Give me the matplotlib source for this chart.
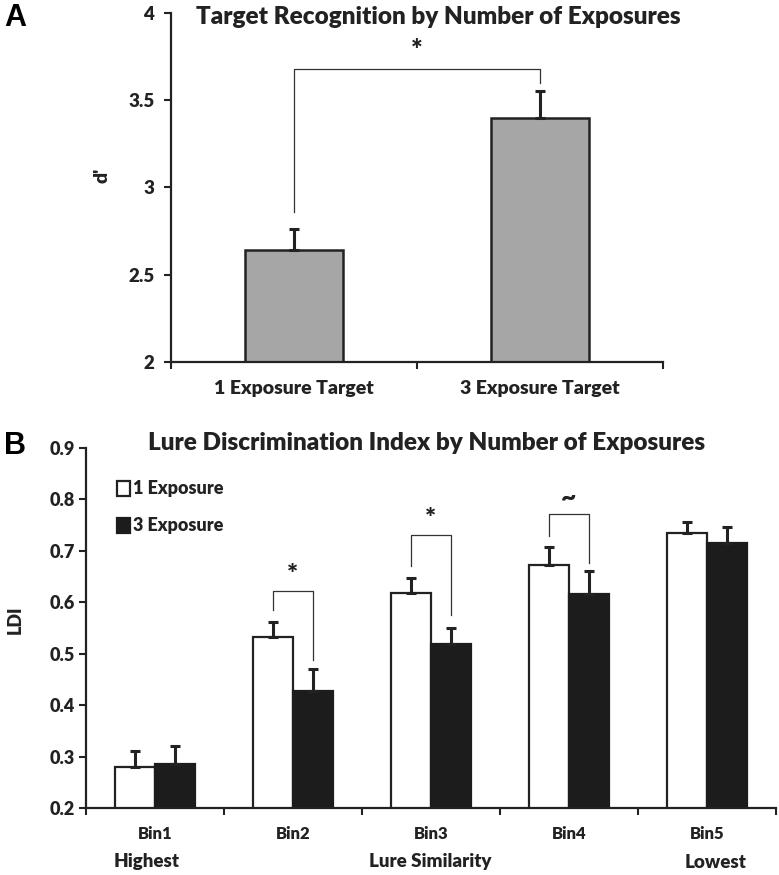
import matplotlib
matplotlib.use('Agg')
import matplotlib.pyplot as plt
import numpy as np

plt.rcParams['font.family'] = ['Lato', 'DejaVu Sans']
plt.rcParams['font.weight'] = 'heavy'
plt.rcParams['text.color'] = '#222222'
plt.rcParams['axes.labelcolor'] = '#222222'
plt.rcParams['xtick.color'] = '#222222'
plt.rcParams['ytick.color'] = '#222222'

# panel A data
a_labels = ['1 Exposure Target', '3 Exposure Target']
a_means = [2.64, 3.40]
a_err = [0.12, 0.15]
# significance bracket (y of bar, left leg end, right leg end)
a_bracket = [3.68, 2.86, 3.60]

# panel B data
bins = ['Bin1', 'Bin2', 'Bin3', 'Bin4', 'Bin5']
ldi_1exp = [0.280, 0.533, 0.619, 0.673, 0.734]
ldi_1exp_err = [0.031, 0.028, 0.028, 0.034, 0.022]
ldi_3exp = [0.285, 0.428, 0.518, 0.616, 0.716]
ldi_3exp_err = [0.035, 0.042, 0.032, 0.044, 0.031]
# brackets: bin index, top, left leg end, right leg end, symbol
b_brackets = [(1, 0.621, 0.585, 0.488, '*'),
              (2, 0.730, 0.670, 0.575, '*'),
              (3, 0.772, 0.729, 0.677, '~')]

fig = plt.figure(figsize=(7.79, 8.75), dpi=100)


def style_axes(ax):
    for s in ['top', 'right']:
        ax.spines[s].set_visible(False)
    for s in ['left', 'bottom']:
        ax.spines[s].set_linewidth(1.6)
        ax.spines[s].set_color('#222222')
    ax.tick_params(axis='y', which='major', direction='out', length=5, width=1.5)
    ax.tick_params(axis='x', which='major', direction='out', length=5, width=1.5)
    ax.tick_params(axis='x', which='minor', length=0)


# ---------- Panel A ----------
axA = fig.add_axes([0.2195, 0.5863, 0.6316, 0.3989])
xa = np.arange(len(a_labels))
axA.bar(xa, a_means, width=0.4, bottom=0, color='#a6a6a6', edgecolor='#222222',
        linewidth=1.8, zorder=2)
axA.errorbar(xa, a_means, yerr=[np.zeros(len(a_err)), a_err], fmt='none',
             ecolor='#222222', elinewidth=2.2, capsize=3.5, capthick=2.2, zorder=3)
axA.set_ylim(2, 4)
axA.set_xlim(-0.5, 1.5)
axA.set_yticks([2, 2.5, 3, 3.5, 4])
axA.set_yticklabels(['2', '2.5', '3', '3.5', '4'], fontsize=13.5)
axA.set_xticks([-0.5, 0.5, 1.5])
axA.set_xticklabels([])
axA.set_xticks(xa, minor=True)
axA.set_xticklabels(a_labels, minor=True, fontsize=14)
style_axes(axA)
axA.tick_params(axis='y', pad=7)
axA.tick_params(axis='x', which='minor', pad=13)

top, l_end, r_end = a_bracket
axA.plot([xa[0], xa[0], xa[1], xa[1]], [l_end, top, top, r_end],
         color='#333333', lw=0.9, zorder=1)
axA.text((xa[0] + xa[1]) / 2, top + 0.03, '*', ha='center', va='bottom',
         fontsize=20)

fig.text(438 / 779, 1 - 17 / 875, 'Target Recognition by Number of Exposures',
         ha='center', va='center', fontsize=17.5)
fig.text(102 / 779, 1 - 175 / 875, "d'", rotation=90, ha='center', va='center',
         fontsize=14)
fig.text(4 / 779, 1 - 18 / 875, 'A', ha='left', va='center', fontsize=22,
         family='Liberation Sans', weight='bold', color='black')

# ---------- Panel B ----------
axB = fig.add_axes([0.1104, 0.0766, 0.8857, 0.4114])
xb = np.arange(len(bins))
w = 0.29
b1 = axB.bar(xb - w / 2, ldi_1exp, width=w, color='white', edgecolor='#222222',
             linewidth=1.6, zorder=2, label='1 Exposure')
b3 = axB.bar(xb + w / 2, ldi_3exp, width=w, color='#1c1c1c', edgecolor='#1c1c1c',
             linewidth=1.6, zorder=2, label='3 Exposure')
axB.errorbar(xb - w / 2, ldi_1exp, yerr=[np.zeros(5), ldi_1exp_err], fmt='none',
             ecolor='#222222', elinewidth=2.2, capsize=3.5, capthick=2.2, zorder=3)
axB.errorbar(xb + w / 2, ldi_3exp, yerr=[np.zeros(5), ldi_3exp_err], fmt='none',
             ecolor='#222222', elinewidth=2.2, capsize=3.5, capthick=2.2, zorder=3)
axB.set_ylim(0.2, 0.9)
axB.set_xlim(-0.5, 4.5)
yt = np.arange(0.2, 0.91, 0.1)
axB.set_yticks(yt)
axB.set_yticklabels([f'{v:.1f}' for v in yt], fontsize=13)
axB.set_xticks(np.arange(-0.5, 4.6, 1))
axB.set_xticklabels([])
axB.set_xticks(xb, minor=True)
axB.set_xticklabels(bins, minor=True, fontsize=12)
style_axes(axB)
axB.tick_params(axis='y', pad=3)
axB.tick_params(axis='x', which='minor', pad=13)

for i, top, l_end, r_end, sym in b_brackets:
    axB.plot([i - w / 2, i - w / 2, i + w / 2, i + w / 2], [l_end, top, top, r_end],
             color='#333333', lw=0.9, zorder=1)
    axB.text(i, top + 0.008, sym, ha='center', va='bottom', fontsize=19)

axB.legend(handles=[b1, b3], loc='upper left', bbox_to_anchor=(0.045, 0.91),
           frameon=False, fontsize=13, handlelength=0.7, handleheight=0.9,
           handletextpad=0.2, labelspacing=1.1, borderpad=0, borderaxespad=0)

fig.text(427 / 779, 1 - 443 / 875, 'Lure Discrimination Index by Number of Exposures',
         ha='center', va='center', fontsize=17.5)
fig.text(15 / 779, 1 - 620 / 875, 'LDI', rotation=90, ha='center', va='center',
         fontsize=13)
fig.text(4 / 779, 1 - 446 / 875, 'B', ha='left', va='center', fontsize=22,
         family='Liberation Sans', weight='bold', color='black')
fig.text(147 / 779, 1 - 862 / 875, 'Highest', ha='center', va='center', fontsize=13.5)
fig.text(430 / 779, 1 - 862 / 875, 'Lure Similarity', ha='center', va='center',
         fontsize=13.5)
fig.text(716 / 779, 1 - 862 / 875, 'Lowest', ha='center', va='center', fontsize=13.5)

fig.savefig('out.png', dpi=100, facecolor='white')
